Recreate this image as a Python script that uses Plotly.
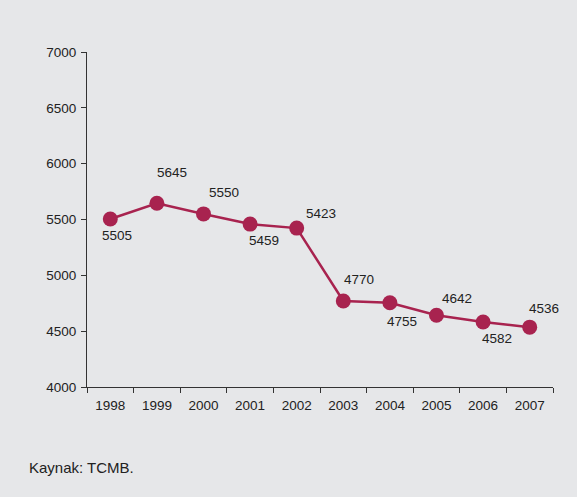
import plotly.graph_objects as go

years = ["1998", "1999", "2000", "2001", "2002", "2003", "2004", "2005", "2006", "2007"]
values = [5505, 5645, 5550, 5459, 5423, 4770, 4755, 4642, 4582, 4536]
label_dx = [7, 15, 20, 14, 24, 16, 12, 20, 14, 14]
label_dy = [-17, 31, 21, -16, 15, 22, -19, 17, -16, 19]

color = "#a8234f"
bg = "#e6e7e9"
fnt = "Liberation Sans, Arial"

fig = go.Figure()
fig.add_trace(go.Scatter(
    x=years, y=values, mode="lines+markers",
    line=dict(color=color, width=2.5),
    marker=dict(color=color, size=15),
    hoverinfo="x+y", showlegend=False,
))

for i, (v, dx, dy) in enumerate(zip(values, label_dx, label_dy)):
    fig.add_annotation(x=i, y=v, xref="x", yref="y", text=str(v), showarrow=False,
                       xshift=dx, yshift=dy,
                       font=dict(family=fnt, size=13.5, color="#222"))

fig.add_annotation(xref="paper", yref="paper", x=0, y=0, xanchor="left", yanchor="middle",
                   xshift=-60, yshift=-80, text="Kaynak: TCMB.", showarrow=False,
                   font=dict(family=fnt, size=15, color="#222"))

fig.update_layout(
    width=577, height=497,
    margin=dict(l=87, r=24, t=52, b=110),
    paper_bgcolor=bg, plot_bgcolor=bg,
    font=dict(family=fnt, size=13.5, color="#222"),
    xaxis=dict(type="category", range=[-0.5, 9.5], tickson="boundaries",
               ticks="outside", ticklen=5, tickcolor="#333", showline=True,
               linecolor="#333", linewidth=1, showgrid=False, zeroline=False,
               ticklabelstandoff=6, tickfont=dict(size=13.5)),
    yaxis=dict(range=[4000, 7000], dtick=500, ticks="outside", ticklen=5,
               tickcolor="#333", showline=True, linecolor="#333", linewidth=1,
               showgrid=False, zeroline=False, ticklabelstandoff=2, tickfont=dict(size=13.5)),
)

fig.write_html("out.html")
